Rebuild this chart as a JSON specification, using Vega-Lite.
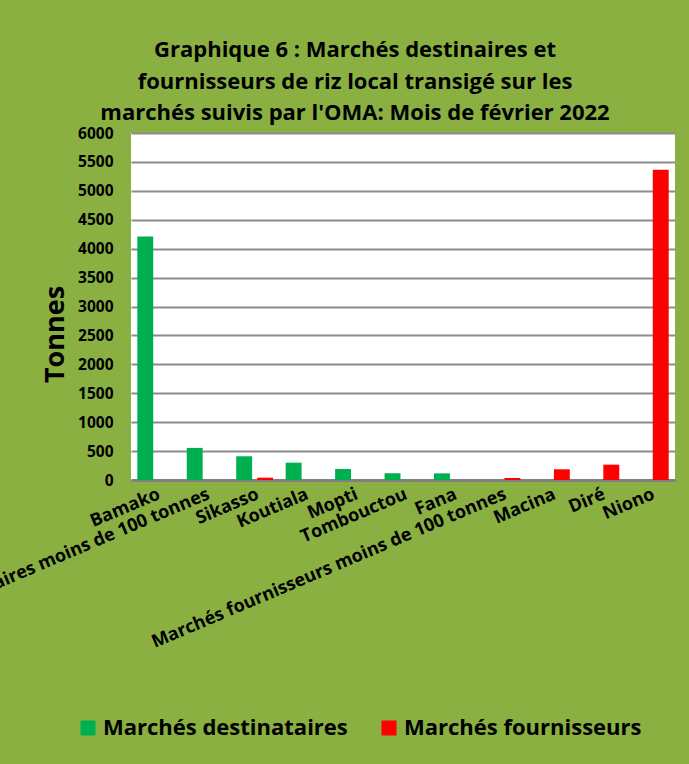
{
  "$schema": "https://vega.github.io/schema/vega-lite/v6.json",
  "width": 544,
  "height": 347,
  "autosize": "none",
  "padding": {"left": 131, "top": 133, "right": 14, "bottom": 284},
  "background": "#8AB042",
  "view": {"fill": "#ffffff", "stroke": null},
  "title": {
    "text": ["Graphique 6 : Marchés destinaires et", "fournisseurs de riz local  transigé sur les", "marchés suivis par l'OMA: Mois de février 2022"],
    "font": "Open Sans",
    "fontWeight": "bold",
    "fontSize": 22,
    "color": "#000000",
    "lineHeight": 31.5,
    "anchor": "middle",
    "frame": "group",
    "dx": -48,
    "offset": 1
  },
  "data": {
    "values": [
      {"marche": "Bamako", "type": "Marchés destinataires", "tonnes": 4210},
      {"marche": "Marchés destinataires moins de 100 tonnes", "type": "Marchés destinataires", "tonnes": 555},
      {"marche": "Sikasso", "type": "Marchés destinataires", "tonnes": 410},
      {"marche": "Sikasso", "type": "Marchés fournisseurs", "tonnes": 40},
      {"marche": "Koutiala", "type": "Marchés destinataires", "tonnes": 300},
      {"marche": "Mopti", "type": "Marchés destinataires", "tonnes": 190},
      {"marche": "Tombouctou", "type": "Marchés destinataires", "tonnes": 115},
      {"marche": "Fana", "type": "Marchés destinataires", "tonnes": 115},
      {"marche": "Marchés fournisseurs moins de 100 tonnes", "type": "Marchés fournisseurs", "tonnes": 35},
      {"marche": "Macina", "type": "Marchés fournisseurs", "tonnes": 185},
      {"marche": "Diré", "type": "Marchés fournisseurs", "tonnes": 265},
      {"marche": "Niono", "type": "Marchés fournisseurs", "tonnes": 5365}
    ]
  },
  "mark": {"type": "bar"},
  "encoding": {
    "x": {
      "field": "marche",
      "type": "nominal",
      "scale": {
        "domain": ["Bamako", "Marchés destinataires moins de 100 tonnes", "Sikasso", "Koutiala", "Mopti", "Tombouctou", "Fana", "Marchés fournisseurs moins de 100 tonnes", "Macina", "Diré", "Niono"],
        "paddingInner": 0,
        "paddingOuter": 0
      },
      "axis": {
        "title": null,
        "grid": false,
        "ticks": false,
        "domain": true,
        "domainColor": "#808080",
        "domainWidth": 3,
        "labelAngle": -23,
        "labelAlign": "right",
        "labelBaseline": "top",
        "labelPadding": 5,
        "labelFont": "Open Sans",
        "labelFontWeight": "bold",
        "labelFontSize": 18,
        "labelColor": "#000000",
        "labelLimit": 600,
        "labelOverlap": false
      }
    },
    "xOffset": {
      "field": "type",
      "type": "nominal",
      "scale": {"domain": ["Marchés destinataires", "Marchés fournisseurs"], "paddingInner": 0.24, "paddingOuter": 0.3}
    },
    "y": {
      "field": "tonnes",
      "type": "quantitative",
      "scale": {"domain": [0, 6000], "nice": false},
      "axis": {
        "values": [0, 500, 1000, 1500, 2000, 2500, 3000, 3500, 4000, 4500, 5000, 5500, 6000],
        "format": "d",
        "title": "Tonnes",
        "titleFont": "Open Sans",
        "titleFontWeight": "bold",
        "titleFontSize": 27,
        "titleColor": "#000000",
        "titleX": -68,
        "titleY": 201,
        "titleAlign": "center",
        "titleBaseline": "alphabetic",
        "titleAngle": -90,
        "domain": false,
        "ticks": false,
        "labelPadding": 18,
        "labelFont": "Open Sans",
        "labelFontWeight": "bold",
        "labelFontSize": 15.5,
        "labelColor": "#000000",
        "gridColor": "#8c8c8c",
        "gridWidth": 2
      }
    },
    "color": {
      "field": "type",
      "type": "nominal",
      "scale": {"domain": ["Marchés destinataires", "Marchés fournisseurs"], "range": ["#00B050", "#FF0000"]},
      "legend": {
        "title": null,
        "orient": "none",
        "legendX": -54,
        "legendY": 584,
        "direction": "horizontal",
        "symbolType": "square",
        "symbolSize": 225,
        "symbolStrokeWidth": 0,
        "labelFont": "Open Sans",
        "labelFontWeight": "bold",
        "labelFontSize": 22,
        "labelColor": "#000000",
        "labelLimit": 400,
        "labelOffset": 4,
        "columnPadding": 30
      }
    }
  }
}
